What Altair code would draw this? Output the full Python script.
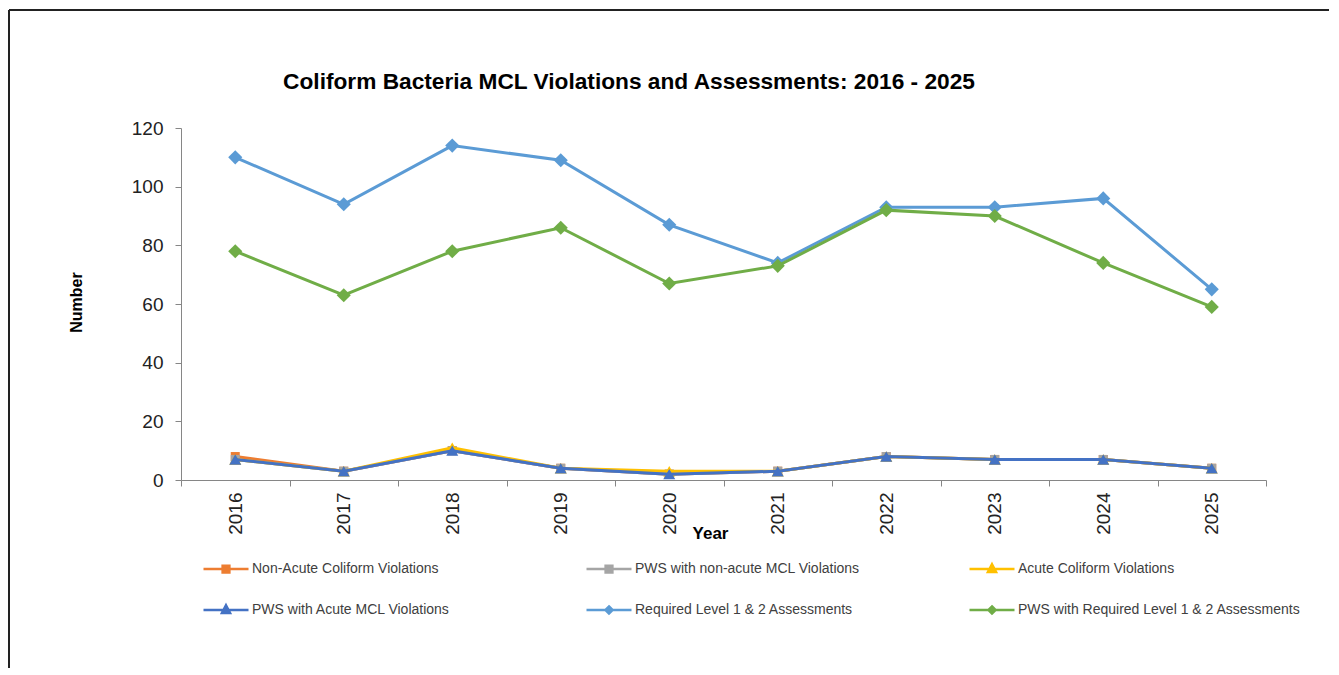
import altair as alt
import pandas as pd

# ---------------- data ----------------
years = ["2016", "2017", "2018", "2019", "2020", "2021", "2022", "2023", "2024", "2025"]

series_names = [
    "Non-Acute Coliform Violations",
    "PWS with non-acute MCL Violations",
    "Acute Coliform Violations",
    "PWS with Acute MCL Violations",
    "Required Level 1 & 2 Assessments",
    "PWS with Required Level 1 & 2 Assessments",
]

non_acute = [8, 3, 10, 4, 2, 3, 8, 7, 7, 4]
pws_non_acute = [7, 3, 10, 4, 2, 3, 8, 7, 7, 4]
acute = [7, 3, 11, 4, 3, 3, 8, 7, 7, 4]
pws_acute = [7, 3, 10, 4, 2, 3, 8, 7, 7, 4]
required = [110, 94, 114, 109, 87, 74, 93, 93, 96, 65]
pws_required = [78, 63, 78, 86, 67, 73, 92, 90, 74, 59]

series_values = [non_acute, pws_non_acute, acute, pws_acute, required, pws_required]

y_ticks = [0, 20, 40, 60, 80, 100, 120]
chart_title = "Coliform Bacteria MCL Violations and Assessments: 2016 - 2025"

# ---------------- styles ----------------
colors = ["#ED7D31", "#A5A5A5", "#FFC000", "#4472C4", "#5B9BD5", "#70AD47"]
shapes = ["square", "square", "triangle-up", "triangle-up", "diamond", "diamond"]
point_sizes = [81, 81, 144, 144, 200, 200]
legend_paths = {
    "square": "M-1,0H1M-0.15,-0.15H0.15V0.15H-0.15Z",
    "triangle-up": "M-1,0H1M0,-0.21L0.18,0.13H-0.18Z",
    "diamond": "M-1,0H1M0,-0.16L0.16,0L0,0.16L-0.16,0Z",
}
# legend slots (relative to plot origin): columns / rows
legend_x = [21, 404, 787, 21, 404, 787]
legend_y = [417, 417, 417, 458, 458, 458]

W, H = 1085, 352
FONT = "Liberation Sans"
AXIS_GRAY = "#868686"

x_axis = alt.Axis(
    title="Year", titleFont=FONT, titleFontSize=17, titleFontWeight="bold",
    titleColor="#000000", titleX=529, titleY=53, titleAlign="center",
    titleBaseline="middle", labelAngle=-90, labelFont=FONT, labelFontSize=19,
    labelColor="#222222", labelPadding=6, tickBand="extent", tickSize=6,
    tickColor=AXIS_GRAY, domainColor=AXIS_GRAY, grid=False,
)
y_axis = alt.Axis(
    title="Number", titleFont=FONT, titleFontSize=16, titleFontWeight="bold",
    titleColor="#000000", titleX=-105, titleY=174, titleAlign="center",
    titleBaseline="middle", values=y_ticks, labelFont=FONT, labelFontSize=19,
    labelColor="#222222", labelPadding=12, tickSize=6, tickColor=AXIS_GRAY,
    domainColor=AXIS_GRAY, grid=False,
)


def series_layer(i):
    name = series_names[i]
    df = pd.DataFrame({"Year": years, "Value": series_values[i], "Series": [name] * len(years)})
    x = alt.X("Year:O", sort=years,
              scale=alt.Scale(type="band", paddingInner=0, paddingOuter=0), axis=x_axis)
    y = alt.Y("Value:Q", scale=alt.Scale(domain=[0, 120], nice=False, zero=True), axis=y_axis)
    cscale = alt.Scale(domain=[name], range=[colors[i]])
    return alt.Chart(df).mark_line(
        strokeWidth=3,
        point=alt.OverlayMarkDef(filled=True, shape=shapes[i], size=point_sizes[i], opacity=1),
    ).encode(
        x=x, y=y,
        color=alt.Color(
            "Series:N", scale=cscale,
            legend=alt.Legend(
                title=None, orient="none", legendX=legend_x[i], legendY=legend_y[i],
                symbolType=legend_paths[shapes[i]], symbolSize=2025,
                symbolStrokeWidth=2.5, symbolStrokeColor=colors[i],
                symbolFillColor=colors[i], symbolOpacity=1,
                labelFont=FONT, labelFontSize=14, labelColor="#404040",
                labelOffset=2, padding=0, labelLimit=400,
            ),
        ),
    )


border_df = pd.DataFrame({"k": [0]})
left_border = alt.Chart(border_df).mark_rule(color="#222222", strokeWidth=2).encode(
    x=alt.value(-172), y=alt.value(-118), y2=alt.value(540)
)
top_border = alt.Chart(border_df).mark_rule(color="#222222", strokeWidth=2).encode(
    x=alt.value(-172), x2=alt.value(1148), y=alt.value(-118)
)
title_df = pd.DataFrame({"t": [chart_title]})
title_text = alt.Chart(title_df).mark_text(
    font=FONT, fontSize=22.7, fontWeight="bold", color="#000000",
    align="center", baseline="alphabetic",
).encode(text="t:N", x=alt.value(448), y=alt.value(-39))

layers = [left_border, top_border, title_text] + [series_layer(i) for i in range(6)]

chart = alt.layer(*layers).resolve_scale(color="independent").properties(
    width=W, height=H,
    padding={"left": 0, "top": 1, "right": 0, "bottom": 0},
    background="white",
).configure_view(stroke=None)

chart.save("out.html", embed_options={"renderer": "svg", "actions": False})
